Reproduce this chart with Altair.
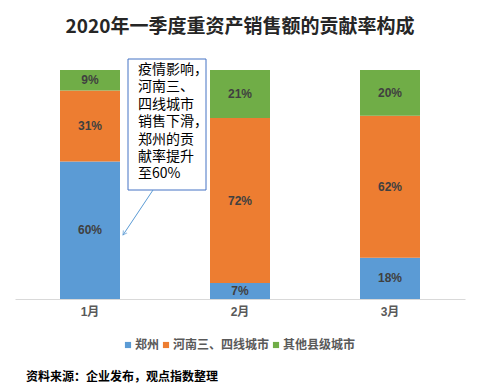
import altair as alt
import pandas as pd

months = ["1月", "2月", "3月"]
series = ["郑州", "河南三、四线城市", "其他县级城市"]
zhengzhou = [60, 7, 18]
henan_34 = [31, 72, 62]
county = [9, 21, 20]
colors = ["#5B9BD5", "#ED7D31", "#70AD47"]
note_lines = ["疫情影响，", "河南三、", "四线城市", "销售下滑，", "郑州的贡", "献率提升", "至60%"]
source_text = "资料来源：企业发布，观点指数整理"
title_text = "2020年一季度重资产销售额的贡献率构成"

rows = []
for i, m in enumerate(months):
    for k, (s, vals) in enumerate(zip(series, [zhengzhou, henan_34, county])):
        rows.append({"month": m, "series": s, "order": k, "value": vals[i]})
df = pd.DataFrame(rows)

FONT = "Liberation Sans, Noto Sans CJK SC"

x_enc = alt.X("month:N", sort=months,
              scale=alt.Scale(paddingInner=0.6, paddingOuter=0.3),
              axis=alt.Axis(title=None, labelAngle=0, ticks=False, domainColor="#D9D9D9",
                            labelFontSize=12, labelFontWeight="bold", labelColor="#595959",
                            labelPadding=7, labelFont=FONT))
y_scale = alt.Scale(domain=[0, 100])

base = alt.Chart(df).transform_stack(
    stack="value", groupby=["month"], as_=["y0", "y1"],
    sort=[alt.SortField("order", order="ascending")]
).transform_calculate(mid="(datum.y0 + datum.y1) / 2", label="datum.value + '%'")

bars = base.mark_bar().encode(
    x=x_enc,
    y=alt.Y("y0:Q", scale=y_scale, axis=None),
    y2="y1:Q",
    color=alt.Color("series:N", sort=series,
                    scale=alt.Scale(domain=series, range=colors),
                    legend=alt.Legend(title=None, orient="none", legendX=107, legendY=269,
                                      direction="horizontal",
                                      symbolType="square", symbolSize=38, labelFontSize=12,
                                      labelFontWeight="bold", labelColor="#595959",
                                      labelFont="Noto Sans CJK SC", columnPadding=0,
                                      labelOffset=1, symbolStrokeWidth=0, labelLimit=300)),
)

labels = base.mark_text(fontSize=12, fontWeight="bold", color="#404040", font=FONT).encode(
    x=alt.X("month:N", sort=months),
    y=alt.Y("mid:Q", scale=y_scale),
    text="label:N",
)

box = alt.Chart(pd.DataFrame({"a": [0]})).mark_rect(
    fill="white", stroke="#4472C4", strokeWidth=1
).encode(x=alt.value(113), x2=alt.value(191), y=alt.value(-11), y2=alt.value(120))

note = alt.Chart(pd.DataFrame({"t": [note_lines]})).mark_text(
    align="left", baseline="top", fontSize=14, lineHeight=17.4, color="#000000",
    font="Noto Sans CJK SC"
).encode(x=alt.value(123), y=alt.value(-7), text="t")

arrow_line = alt.Chart(pd.DataFrame({"a": [0]})).mark_rule(
    color="#5B9BD5", strokeWidth=1
).encode(x=alt.value(138), x2=alt.value(108), y=alt.value(120), y2=alt.value(165))

arrow_head = alt.Chart(pd.DataFrame({"a": [0]})).mark_point(
    shape="M-0.5,0.9L0,0L0.5,0.9", filled=False, stroke="#5B9BD5", strokeWidth=1,
    size=80, angle=213.7
).encode(x=alt.value(108), y=alt.value(165))

source = alt.Chart(pd.DataFrame({"s": [source_text]})).mark_text(
    align="left", baseline="middle", fontSize=12, fontWeight="bold", color="#000000",
    font="Noto Sans CJK SC"
).encode(x=alt.value(11), y=alt.value(307), text="s")

chart = alt.layer(bars, labels, box, note, arrow_line, arrow_head, source).properties(
    width=450, height=229,
    title=alt.TitleParams(title_text, fontSize=19, fontWeight="bold", color="#262626",
                          font="Noto Sans CJK SC", anchor="middle", offset=22),
    autosize=alt.AutoSizeParams(type="none"),
    padding={"left": 7, "top": 62, "right": 7, "bottom": 85},
).configure_view(stroke=None)

chart.save("out.html", embed_options={"renderer": "svg", "actions": False})
